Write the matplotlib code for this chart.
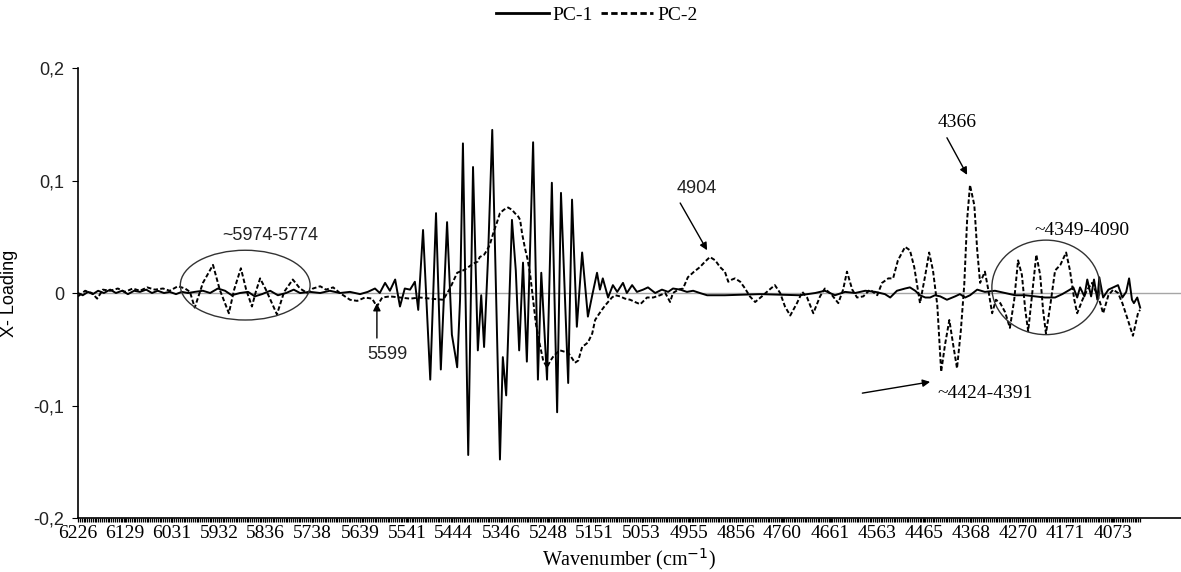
import numpy as np
import matplotlib.pyplot as plt
from matplotlib.patches import Ellipse
from matplotlib.ticker import FixedLocator

# -----------------------------
# datos
# -----------------------------
wn_pc1 = [6226, 6216, 6205, 6195, 6184, 6172, 6159, 6147, 6134, 6122, 6109, 6097, 6084, 6072,
          6060, 6047, 6035, 6022, 6010, 5997, 5983, 5966, 5951, 5935, 5920, 5906, 5889, 5872,
          5858, 5843, 5826, 5810, 5793, 5777, 5764, 5743, 5722, 5702, 5681, 5660, 5639, 5623,
          5608, 5598, 5587, 5577, 5566, 5556, 5546, 5535, 5525, 5518, 5508, 5493, 5481, 5471,
          5458, 5448, 5441, 5437, 5431, 5425, 5414, 5404, 5394, 5387, 5381, 5373, 5364, 5348,
          5342, 5335, 5323, 5315, 5308, 5300, 5292, 5279, 5269, 5262, 5250, 5240, 5229, 5221,
          5206, 5198, 5188, 5177, 5165, 5156, 5146, 5140, 5134, 5123, 5113, 5104, 5092, 5084,
          5073, 5063, 5050, 5040, 5025, 5011, 4998, 4988, 4973, 4959, 4946, 4932, 4917, 4880,
          4807, 4724, 4692, 4672, 4651, 4630, 4609, 4588, 4567, 4547, 4536, 4522, 4505, 4495,
          4484, 4474, 4463, 4453, 4443, 4432, 4418, 4401, 4391, 4380, 4370, 4355, 4339, 4318,
          4297, 4276, 4255, 4234, 4214, 4193, 4178, 4162, 4155, 4147, 4141, 4132, 4126, 4118,
          4112, 4105, 4101, 4093, 4082, 4072, 4062, 4053, 4045, 4039, 4033, 4029, 4022, 4016]
pc1 = [0.000, -0.002, 0.001, -0.001, 0.002, 0.000, 0.003, 0.000, 0.002, -0.001, 0.002, 0.001,
       0.003, 0.000, 0.002, 0.000, 0.001, -0.001, 0.001, 0.000, 0.001, 0.002, 0.000, 0.004,
       0.002, -0.002, 0.000, 0.001, -0.003, -0.001, 0.002, -0.002, 0.000, 0.003, 0.000, 0.001,
       0.000, 0.002, 0.000, 0.001, -0.001, 0.001, 0.004, 0.000, 0.009, 0.002, 0.012, -0.012,
       0.004, 0.003, 0.010, -0.015, 0.056, -0.077, 0.071, -0.068, 0.063, -0.037, -0.055, -0.066,
       -0.006, 0.133, -0.144, 0.112, -0.051, -0.002, -0.048, 0.029, 0.145, -0.148, -0.057, -0.091,
       0.065, 0.020, -0.051, 0.027, -0.061, 0.134, -0.077, 0.018, -0.077, 0.098, -0.106, 0.089,
       -0.080, 0.083, -0.030, 0.036, -0.021, -0.002, 0.018, 0.003, 0.013, -0.004, 0.007, 0.001,
       0.009, 0.000, 0.007, 0.001, 0.003, 0.005, 0.000, 0.003, 0.001, 0.004, 0.003, 0.001,
       0.002, 0.000, -0.002, -0.002, -0.001, -0.002, 0.000, 0.002, -0.002, 0.001, 0.000, 0.002,
       0.001, -0.001, -0.004, 0.002, 0.004, 0.005, 0.002, -0.002, -0.004, -0.004, -0.002, -0.003,
       -0.006, -0.003, -0.001, -0.004, -0.002, 0.003, 0.001, 0.002, 0.000, -0.002, -0.002, -0.003,
       -0.004, -0.004, -0.001, 0.003, 0.005, -0.004, 0.005, -0.003, 0.012, -0.003, 0.012, -0.006,
       0.014, -0.004, 0.003, 0.005, 0.007, -0.004, 0.001, 0.013, -0.006, -0.009, -0.004, -0.013]

wn_pc2 = [6226, 6211, 6197, 6186, 6174, 6159, 6143, 6128, 6112, 6097, 6082, 6066, 6049, 6035,
          6018, 6003, 5993, 5983, 5966, 5945, 5931, 5912, 5901, 5887, 5876, 5864, 5856, 5847,
          5835, 5812, 5797, 5779, 5764, 5749, 5737, 5722, 5710, 5695, 5681, 5660, 5645, 5629,
          5614, 5604, 5593, 5577, 5556, 5535, 5514, 5493, 5466, 5452, 5437, 5425, 5417, 5404,
          5394, 5390, 5381, 5375, 5369, 5362, 5354, 5348, 5340, 5331, 5323, 5317, 5310, 5306,
          5302, 5296, 5290, 5285, 5279, 5273, 5265, 5258, 5250, 5244, 5238, 5229, 5223, 5215,
          5206, 5198, 5192, 5185, 5177, 5171, 5165, 5156, 5150, 5144, 5136, 5129, 5123, 5115,
          5108, 5098, 5088, 5077, 5067, 5056, 5042, 5029, 5015, 5004, 4994, 4988, 4977, 4967,
          4957, 4944, 4932, 4921, 4911, 4900, 4890, 4880, 4873, 4865, 4859, 4848, 4838, 4828,
          4817, 4803, 4790, 4776, 4765, 4755, 4744, 4730, 4719, 4709, 4696, 4682, 4672, 4657,
          4644, 4634, 4626, 4615, 4605, 4592, 4578, 4563, 4553, 4540, 4530, 4520, 4505, 4495,
          4486, 4474, 4463, 4455, 4447, 4438, 4430, 4422, 4413, 4405, 4397, 4389, 4382, 4376,
          4370, 4361, 4355, 4349, 4339, 4332, 4324, 4316, 4307, 4297, 4287, 4278, 4270, 4262,
          4255, 4249, 4241, 4232, 4224, 4218, 4212, 4203, 4193, 4182, 4170, 4162, 4153, 4147,
          4136, 4126, 4116, 4105, 4099, 4093, 4082, 4072, 4062, 4053, 4043, 4031, 4020, 4016]
pc2 = [-0.003, 0.002, 0.000, -0.005, 0.003, 0.002, 0.004, 0.001, 0.004, 0.002, 0.005, 0.003,
       0.004, 0.002, 0.006, 0.004, 0.001, -0.013, 0.009, 0.025, 0.003, -0.018, 0.003, 0.022,
       0.003, -0.012, 0.001, 0.013, 0.003, -0.019, 0.001, 0.012, 0.004, 0.000, 0.004, 0.006,
       0.003, 0.005, 0.000, -0.006, -0.007, -0.004, -0.005, -0.012, -0.004, -0.003, -0.004, -0.005,
       -0.004, -0.005, -0.006, 0.004, 0.018, 0.020, 0.022, 0.026, 0.028, 0.032, 0.034, 0.038,
       0.043, 0.053, 0.063, 0.071, 0.074, 0.076, 0.074, 0.071, 0.068, 0.065, 0.053, 0.040,
       0.029, 0.016, -0.006, -0.028, -0.046, -0.060, -0.066, -0.061, -0.057, -0.053, -0.051, -0.052,
       -0.053, -0.058, -0.062, -0.060, -0.048, -0.046, -0.044, -0.036, -0.024, -0.020, -0.015, -0.011,
       -0.008, -0.004, -0.002, -0.003, -0.005, -0.006, -0.008, -0.010, -0.004, -0.004, -0.002, 0.000,
       -0.008, 0.000, 0.003, 0.004, 0.014, 0.019, 0.023, 0.028, 0.032, 0.029, 0.023, 0.019,
       0.010, 0.012, 0.013, 0.010, 0.004, -0.003, -0.008, -0.003, 0.002, 0.007, 0.000, -0.012,
       -0.020, -0.009, 0.001, -0.004, -0.018, -0.003, 0.004, -0.002, -0.009, 0.003, 0.019, 0.003,
       -0.004, -0.003, 0.003, -0.002, 0.009, 0.013, 0.013, 0.029, 0.041, 0.038, 0.023, -0.009,
       0.016, 0.036, 0.020, -0.011, -0.070, -0.046, -0.024, -0.046, -0.067, -0.033, 0.007, 0.065,
       0.096, 0.078, 0.038, 0.009, 0.019, 0.003, -0.018, -0.006, -0.009, -0.017, -0.031, -0.006,
       0.029, 0.016, -0.015, -0.034, -0.002, 0.034, 0.016, -0.015, -0.036, -0.011, 0.020, 0.025,
       0.036, 0.020, -0.006, -0.018, -0.006, 0.003, 0.009, -0.002, -0.009, -0.018, -0.002, 0.003,
       0.000, -0.009, -0.022, -0.038, -0.017, -0.015]

etiquetas_x = [6226, 6129, 6031, 5932, 5836, 5738, 5639, 5541, 5444, 5346, 5248, 5151,
               5053, 4955, 4856, 4760, 4661, 4563, 4465, 4368, 4270, 4171, 4073]
etiquetas_y = [-0.2, -0.1, 0, 0.1, 0.2]

SERIF = "Liberation Serif"
SANS = "Liberation Sans"

# -----------------------------
# figura
# -----------------------------
fig = plt.figure(figsize=(11.81, 5.72), dpi=100)
ax = fig.add_axes([0.066, 0.0944, 0.934, 0.7867])

ax.axhline(0, color="#a6a6a6", lw=1.0, zorder=1)

l1, = ax.plot(wn_pc1, pc1, color="black", lw=1.4, zorder=3)
l2, = ax.plot(wn_pc2, pc2, color="black", lw=1.4, ls=(0, (2.3, 1.2)), zorder=2)

ax.set_xlim(6226, 3931)
ax.set_ylim(-0.2, 0.2)

# ejes estilo excel
for s in ["top", "right"]:
    ax.spines[s].set_visible(False)
ax.spines["left"].set_linewidth(1.2)
ax.spines["bottom"].set_linewidth(1.2)

ax.set_xticks(etiquetas_x)
ax.set_xticklabels([str(v) for v in etiquetas_x], fontfamily=SERIF, fontsize=14)
ax.xaxis.set_minor_locator(FixedLocator(np.arange(6226, 4014, -3.857)))
ax.tick_params(axis="x", which="both", direction="out", length=3, width=0.9, pad=2)

ax.set_yticks(etiquetas_y)
ax.set_yticklabels(["-0,2", "-0,1", "0", "0,1", "0,2"], fontfamily=SANS, fontsize=13, color="#222222")
ax.tick_params(axis="y", direction="out", length=4, width=0.8, pad=6)

ax.set_xlabel("Wavenumber (cm$^{-1}$)", fontfamily=SERIF, fontsize=14.5)
ax.xaxis.set_label_coords(0.5, -0.062)
ax.set_ylabel("X- Loading", fontfamily=SANS, fontsize=13)
ax.yaxis.set_label_coords(-0.054, 0.5)

# -----------------------------
# elipses y anotaciones
# -----------------------------
ax.add_patch(Ellipse((5878, 0.007), 270, 0.062, fill=False, ec="#333333", lw=1.0, zorder=4))
ax.add_patch(Ellipse((4212, 0.005), 225, 0.084, fill=False, ec="#333333", lw=1.0, zorder=4))

flecha = dict(arrowstyle="-|>", color="black", lw=1.0, mutation_scale=11, shrinkA=0, shrinkB=0)

ax.text(5826, 0.051, "~5974-5774", fontfamily=SANS, fontsize=13, color="#222222", ha="center", va="center")
ax.annotate("", xy=(5604, -0.009), xytext=(5604, -0.040), arrowprops=flecha)
ax.text(5583, -0.055, "5599", fontfamily=SANS, fontsize=13, color="#222222", ha="center", va="center")
ax.annotate("", xy=(4917, 0.038), xytext=(4973, 0.080), arrowprops=flecha)
ax.text(4938, 0.093, "4904", fontfamily=SANS, fontsize=13, color="#222222", ha="center", va="center")
ax.annotate("", xy=(4376, 0.105), xytext=(4418, 0.138), arrowprops=flecha)
ax.text(4397, 0.152, "4366", fontfamily=SERIF, fontsize=14, ha="center", va="center")
ax.text(4137, 0.056, "~4349-4090", fontfamily=SERIF, fontsize=14, ha="center", va="center")
ax.annotate("", xy=(4453, -0.079), xytext=(4594, -0.089), arrowprops=flecha)
ax.text(4339, -0.089, "~4424-4391", fontfamily=SERIF, fontsize=14, ha="center", va="center")

# leyenda arriba
leg = fig.legend([l1, l2], ["PC-1", "PC-2"], loc="center", bbox_to_anchor=(0.5055, 0.974), ncol=2,
                 frameon=False, handlelength=2.7, handletextpad=0.2, columnspacing=0.4,
                 prop={"family": SERIF, "size": 14})
for h in leg.legend_handles:
    h.set_linewidth(2.0)

fig.savefig("out.png", dpi=100)
